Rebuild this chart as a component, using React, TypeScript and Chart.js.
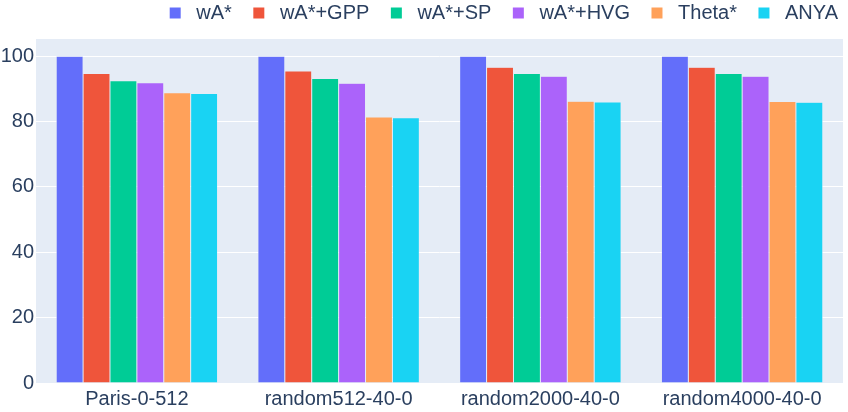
import React, { useEffect, useRef } from "react";
import { Chart, registerables } from "chart.js";

Chart.register(...registerables);

const categories = ["Paris-0-512", "random512-40-0", "random2000-40-0", "random4000-40-0"];
const seriesNames = ["wA*", "wA*+GPP", "wA*+SP", "wA*+HVG", "Theta*", "ANYA"];
const seriesColors = ["#636EFA", "#EF553B", "#00CC96", "#AB63FA", "#FFA15A", "#19D3F3"];
const wAStar = [100, 100, 100, 100];
const wAStarGPP = [94.7, 95.5, 96.6, 96.6];
const wAStarSP = [92.5, 93.2, 94.7, 94.7];
const wAStarHVG = [91.9, 91.7, 93.9, 93.9];
const thetaStar = [88.8, 81.4, 86.2, 86.1];
const anya = [88.6, 81.2, 86.0, 85.9];
const yTicks = [0, 20, 40, 60, 80, 100];
const yMax = 105.26;

const seriesValues = [wAStar, wAStarGPP, wAStarSP, wAStarHVG, thetaStar, anya];

const FONT = "'Liberation Sans', Arial, sans-serif";
const FONT_SIZE = 20;
const TEXT = "#2a3f5f";
const PLOT_BG = "#E5ECF6";

const plotBg = {
  id: "plotBg",
  beforeDraw(chart: any) {
    const { ctx, chartArea } = chart;
    if (!chartArea) return;
    ctx.save();
    ctx.fillStyle = PLOT_BG;
    ctx.fillRect(chartArea.left, chartArea.top, chartArea.right - chartArea.left, chartArea.bottom - chartArea.top);
    ctx.restore();
  },
};

export default function App() {
  const ref = useRef<HTMLCanvasElement | null>(null);

  useEffect(() => {
    if (!ref.current) return;
    const chart = new Chart(ref.current, {
      type: "bar",
      data: {
        labels: categories,
        datasets: seriesNames.map((name, i) => ({
          label: name,
          data: seriesValues[i],
          backgroundColor: seriesColors[i],
          borderColor: PLOT_BG,
          borderWidth: 0.5,
          categoryPercentage: 0.8,
          barPercentage: 1.0,
        })),
      },
      options: {
        animation: false,
        responsive: false,
        maintainAspectRatio: false,
        devicePixelRatio: 1,
        layout: { padding: { top: -18.5, right: -11.5, bottom: 0, left: 0 } },
        font: { family: FONT, size: FONT_SIZE },
        color: TEXT,
        plugins: {
          tooltip: { enabled: false },
          legend: {
            display: true,
            position: "top",
            align: "end",
            labels: {
              color: TEXT,
              font: { family: FONT, size: FONT_SIZE },
              boxWidth: 11,
              boxHeight: 11,
              padding: 21.5,
              generateLabels: (chart: any) => {
                const items = Chart.defaults.plugins.legend.labels.generateLabels(chart);
                return items.map((it: any) => ({ ...it, text: " " + it.text, lineWidth: 0 }));
              },
            },
          },
        },
        scales: {
          x: {
            type: "category",
            position: "bottom",
            grid: { display: false, drawTicks: false },
            border: { display: false },
            ticks: { color: TEXT, font: { family: FONT, size: FONT_SIZE }, padding: 4, maxRotation: 0, autoSkip: false },
            afterFit: (s: any) => {
              s.height = 29;
            },
          },
          xTop: {
            type: "category",
            position: "top",
            display: true,
            grid: { display: false, drawTicks: false },
            border: { display: false },
            ticks: { display: false },
            afterFit: (s: any) => {
              s.height = 6;
            },
          },
          y: {
            type: "linear",
            position: "left",
            min: 0,
            max: yMax,
            grid: { color: "#FFFFFF", lineWidth: 1, drawTicks: false },
            border: { display: false },
            ticks: { color: TEXT, font: { family: FONT, size: FONT_SIZE }, padding: 2 },
            afterBuildTicks: (s: any) => {
              s.ticks = yTicks.map((v) => ({ value: v }));
            },
            afterFit: (s: any) => {
              s.width = 36;
            },
          },
          yRight: {
            type: "linear",
            position: "right",
            display: true,
            grid: { display: false, drawTicks: false },
            border: { display: false },
            ticks: { display: false },
            afterFit: (s: any) => {
              s.width = 16.5;
            },
          },
        },
      },
      plugins: [plotBg],
    } as any);
    return () => chart.destroy();
  }, []);

  return (
    <div style={{ position: "absolute", left: 0, top: 0, width: 848, height: 412, background: "#fff" }}>
      <canvas ref={ref} width={848} height={412} style={{ display: "block", width: 848, height: 412 }} />
    </div>
  );
}
